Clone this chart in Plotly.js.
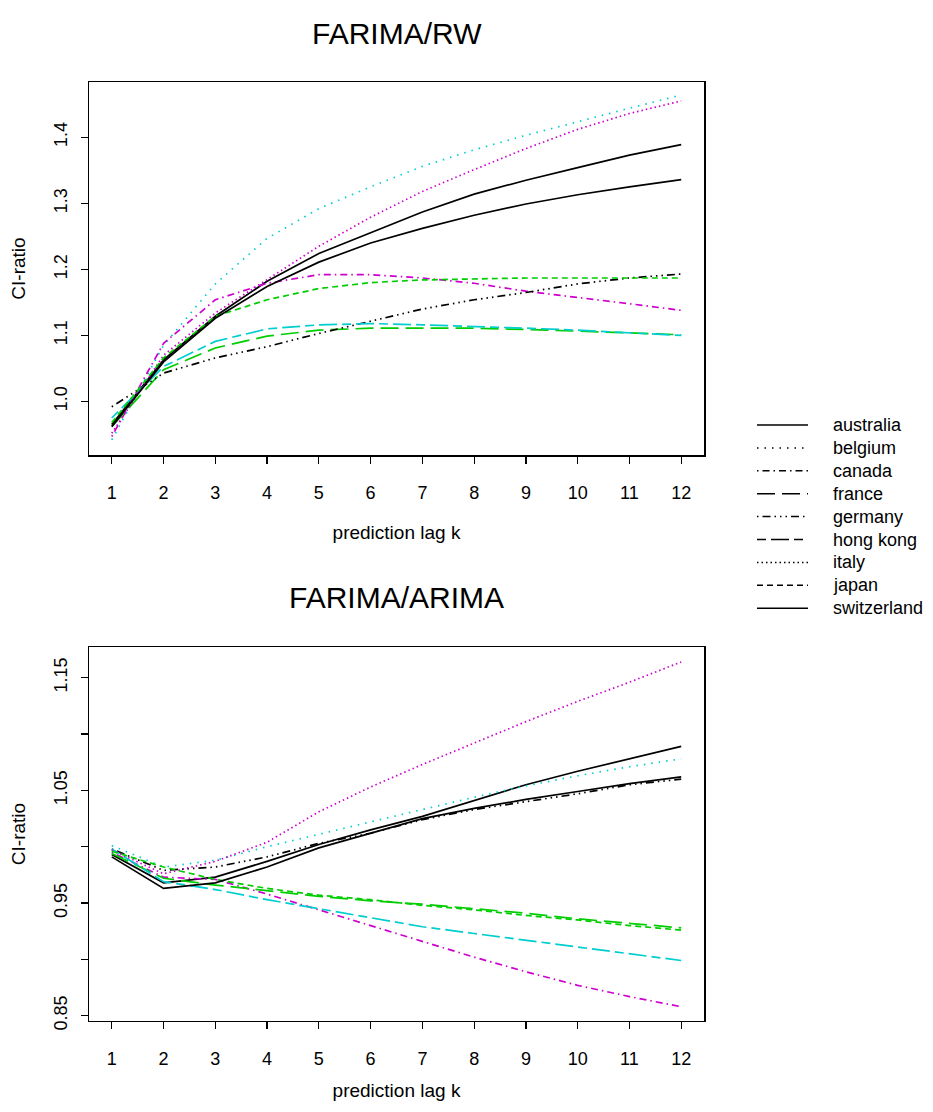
<!DOCTYPE html>
<html>
<head>
<meta charset="utf-8">
<script src="https://cdn.plot.ly/plotly-3.0.1.min.js"></script>
<style>html,body{margin:0;padding:0;background:#fff;}#chart{width:933px;height:1112px;}</style>
</head>
<body>
<div id="chart"></div>
<script>
// ---- data ----
const lags = [1, 2, 3, 4, 5, 6, 7, 8, 9, 10, 11, 12];
const countries = ["australia", "belgium", "canada", "france", "germany", "hong kong", "italy", "japan", "switzerland"];

// FARIMA/RW CI-ratio
const rwAustralia   = [0.965, 1.063, 1.129, 1.182, 1.224, 1.256, 1.287, 1.314, 1.335, 1.354, 1.373, 1.389];
const rwBelgium     = [0.942, 1.085, 1.178, 1.247, 1.292, 1.325, 1.356, 1.381, 1.403, 1.424, 1.444, 1.464];
const rwCanada      = [0.947, 1.088, 1.154, 1.179, 1.192, 1.192, 1.187, 1.179, 1.167, 1.158, 1.148, 1.138];
const rwFrance      = [0.962, 1.048, 1.081, 1.099, 1.108, 1.111, 1.111, 1.111, 1.109, 1.107, 1.104, 1.101];
const rwGermany     = [0.992, 1.043, 1.066, 1.083, 1.103, 1.122, 1.140, 1.154, 1.165, 1.178, 1.187, 1.193];
const rwHongKong    = [0.975, 1.053, 1.091, 1.110, 1.116, 1.118, 1.116, 1.114, 1.111, 1.108, 1.104, 1.100];
const rwItaly       = [0.952, 1.070, 1.134, 1.184, 1.235, 1.279, 1.318, 1.351, 1.383, 1.412, 1.436, 1.455];
const rwJapan       = [0.968, 1.066, 1.129, 1.154, 1.171, 1.180, 1.184, 1.186, 1.187, 1.187, 1.187, 1.187];
const rwSwitzerland = [0.962, 1.060, 1.126, 1.174, 1.211, 1.240, 1.262, 1.282, 1.299, 1.313, 1.325, 1.336];

// FARIMA/ARIMA CI-ratio
const arAustralia   = [0.993, 0.968, 0.973, 0.987, 1.002, 1.015, 1.027, 1.041, 1.055, 1.067, 1.078, 1.089];
const arBelgium     = [1.001, 0.982, 0.988, 1.000, 1.011, 1.022, 1.033, 1.044, 1.054, 1.063, 1.071, 1.078];
const arCanada      = [0.995, 0.973, 0.971, 0.958, 0.944, 0.930, 0.916, 0.902, 0.889, 0.877, 0.867, 0.858];
const arFrance      = [0.994, 0.972, 0.966, 0.961, 0.956, 0.952, 0.949, 0.945, 0.941, 0.936, 0.932, 0.928];
const arGermany     = [0.998, 0.979, 0.982, 0.991, 1.003, 1.012, 1.024, 1.033, 1.040, 1.047, 1.055, 1.060];
const arHongKong    = [0.998, 0.969, 0.962, 0.953, 0.945, 0.937, 0.929, 0.923, 0.917, 0.911, 0.905, 0.899];
const arItaly       = [0.997, 0.976, 0.987, 1.004, 1.031, 1.053, 1.073, 1.092, 1.111, 1.129, 1.146, 1.164];
const arJapan       = [0.996, 0.982, 0.971, 0.963, 0.957, 0.953, 0.948, 0.944, 0.939, 0.935, 0.930, 0.926];
const arSwitzerland = [0.991, 0.963, 0.968, 0.982, 0.999, 1.012, 1.025, 1.034, 1.042, 1.049, 1.056, 1.062];

const rwTicks = [1.0, 1.1, 1.2, 1.3, 1.4];
const rwTickText = ["1.0", "1.1", "1.2", "1.3", "1.4"];
const arTicks = [0.85, 0.90, 0.95, 1.00, 1.05, 1.10, 1.15];
const arTickText = ["0.85", "", "0.95", "", "1.05", "", "1.15"];

// ---- styles ----
const colors = ["#000000", "#00CDCD", "#CD00CD", "#00CD00", "#000000", "#00CDCD", "#CD00CD", "#00CD00", "#000000"];
const dashes = ["solid", "1.5px,6px", "1.5px,4px,7px,4px", "18px,7px",
                "1.5px,4px,8px,4px,1.5px,4px,1.5px,4px", "9px,5px,18px,5px",
                "1.5px,3px", "6px,4px", "solid"];

const rwSeries = [rwAustralia, rwBelgium, rwCanada, rwFrance, rwGermany, rwHongKong, rwItaly, rwJapan, rwSwitzerland];
const arSeries = [arAustralia, arBelgium, arCanada, arFrance, arGermany, arHongKong, arItaly, arJapan, arSwitzerland];

const traces = [];
countries.forEach((c, i) => {
  traces.push({x: lags, y: rwSeries[i], xaxis: "x", yaxis: "y", mode: "lines", name: c,
    showlegend: false, hoverinfo: "skip",
    line: {color: colors[i], width: 1.7, dash: dashes[i]}});
  traces.push({x: lags, y: arSeries[i], xaxis: "x2", yaxis: "y2", mode: "lines", name: c,
    showlegend: false, hoverinfo: "skip",
    line: {color: colors[i], width: 1.7, dash: dashes[i]}});
});

const W = 933, H = 1112;
const fontFam = "Liberation Sans, Arial, Helvetica, sans-serif";
const px = v => v / W;
const py = v => 1 - v / H;

const axisCommon = {
  showline: true, mirror: true, linecolor: "#000", linewidth: 1.5,
  ticks: "outside", ticklen: 7, tickwidth: 1.2, tickcolor: "#000",
  showgrid: false, zeroline: false, automargin: false,
  tickfont: {family: fontFam, size: 18, color: "#000"}
};

const xAx = (anchor, standoff) => Object.assign({}, axisCommon, {
  domain: [px(89), px(704)], range: [0.56, 12.44], anchor: anchor,
  tickmode: "array", tickvals: lags, ticktext: lags.map(String),
  ticklabelstandoff: 14,
  title: {text: "prediction lag k", font: {family: fontFam, size: 19, color: "#000"}, standoff: standoff}
});

const shapes = [];
const annotations = [
  {text: "FARIMA/RW", x: px(396.5), y: py(33), xref: "paper", yref: "paper", xanchor: "center", yanchor: "middle",
   showarrow: false, font: {family: fontFam, size: 30, color: "#000"}},
  {text: "FARIMA/ARIMA", x: px(396.5), y: py(597), xref: "paper", yref: "paper", xanchor: "center", yanchor: "middle",
   showarrow: false, font: {family: fontFam, size: 30, color: "#000"}}
];
countries.forEach((c, i) => {
  const yy = 425 + i * 22.9;
  shapes.push({type: "line", xref: "paper", yref: "paper", x0: px(757), x1: px(808), y0: py(yy), y1: py(yy),
    line: {color: "#000", width: 1.5, dash: dashes[i]}});
  annotations.push({text: c, x: px(831), y: py(yy), xref: "paper", yref: "paper", xanchor: "left", yanchor: "middle",
    showarrow: false, font: {family: fontFam, size: 18, color: "#000"}});
});

const layout = {
  width: W, height: H, autosize: false,
  margin: {l: 0, r: 0, t: 0, b: 0},
  paper_bgcolor: "#fff", plot_bgcolor: "#fff",
  showlegend: false,
  font: {family: fontFam, color: "#000"},
  xaxis: xAx("y", 23),
  xaxis2: xAx("y2", 16),
  yaxis: Object.assign({}, axisCommon, {
    domain: [py(455), py(82)], range: [0.919, 1.4837], anchor: "x",
    tickmode: "array", tickvals: rwTicks, ticktext: rwTickText, tickangle: -90,
    ticklabelstandoff: 6,
    title: {text: "CI-ratio", font: {family: fontFam, size: 19, color: "#000"}, standoff: 20}
  }),
  yaxis2: Object.assign({}, axisCommon, {
    domain: [py(1020.7), py(647.3)], range: [0.8456, 1.177], anchor: "x2",
    tickmode: "array", tickvals: arTicks, ticktext: arTickText, tickangle: -90,
    ticklabelstandoff: 6,
    title: {text: "CI-ratio", font: {family: fontFam, size: 19, color: "#000"}, standoff: 20}
  }),
  shapes: shapes,
  annotations: annotations
};

Plotly.newPlot("chart", traces, layout, {staticPlot: true, displayModeBar: false});
</script>
</body>
</html>
